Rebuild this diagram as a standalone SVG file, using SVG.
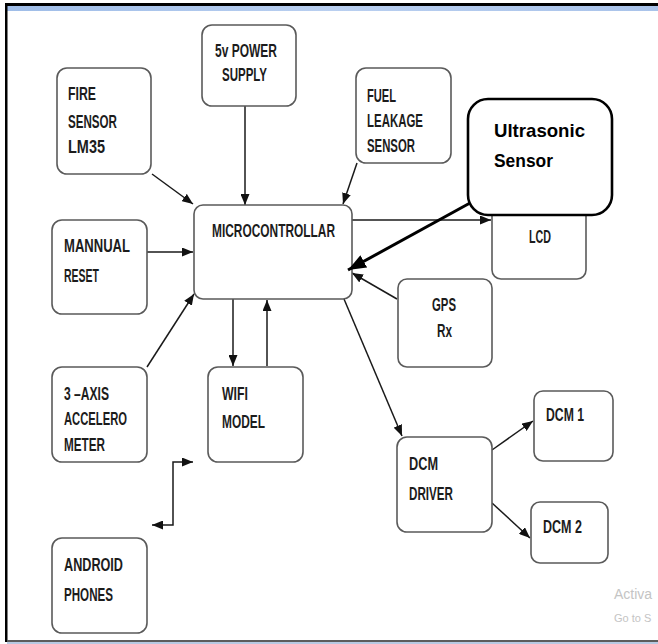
<svg xmlns="http://www.w3.org/2000/svg" width="658" height="644" viewBox="0 0 658 644">
<defs>
<linearGradient id="band" x1="0" y1="0" x2="1" y2="0">
<stop offset="0" stop-color="#9fbde8"/>
<stop offset="0.5" stop-color="#b9cff0"/>
<stop offset="1" stop-color="#a9c3ea"/>
</linearGradient>
<marker id="ah" markerWidth="11" markerHeight="9" refX="11" refY="4.5" orient="auto-start-reverse" markerUnits="userSpaceOnUse">
<path d="M0,0 L11,4.5 L0,9 z" fill="#111"/>
</marker>
<marker id="ahb" markerWidth="18" markerHeight="14" refX="18" refY="7" orient="auto" markerUnits="userSpaceOnUse">
<path d="M0,0 L18,7 L0,14 z" fill="#000"/>
</marker>
</defs>
<style>
.box{fill:#fff;stroke:#5a5a5a;stroke-width:1.6}
.ubox{fill:#fff;stroke:#000;stroke-width:2.6}
.t{font-family:"Liberation Sans",Arial,sans-serif;font-weight:bold;font-size:18px;fill:#1c1c1c}
.u{font-family:"Liberation Sans",Arial,sans-serif;font-weight:bold;font-size:18.5px;fill:#000}
.c{fill:none;stroke:#1a1a1a;stroke-width:1.5}
.wm{font-family:"Liberation Sans",Arial,sans-serif;fill:#c4c4c4}
</style>
<rect x="0" y="0" width="658" height="644" fill="#fff"/>
<!-- frame -->
<rect x="5" y="3" width="653" height="3" fill="#000"/>
<rect x="7" y="6" width="651" height="5" fill="url(#band)"/>
<rect x="5" y="3" width="2.5" height="639" fill="#000"/>
<rect x="7" y="640" width="651" height="2" fill="#5c5c5c"/>
<rect x="7" y="642" width="651" height="2" fill="#b7c9e2"/>

<g id="connectors">
<line class="c" x1="245" y1="106" x2="245" y2="205" marker-end="url(#ah)"/>
<line class="c" x1="152" y1="174" x2="193" y2="204" marker-end="url(#ah)"/>
<line class="c" x1="357" y1="163" x2="343" y2="204" marker-end="url(#ah)"/>
<line class="c" x1="352" y1="220" x2="491" y2="220" marker-end="url(#ah)"/>
<line class="c" x1="147" y1="252" x2="193" y2="252" marker-end="url(#ah)"/>
<line class="c" x1="147" y1="367" x2="194" y2="294" marker-end="url(#ah)"/>
<line class="c" x1="397" y1="299" x2="352" y2="273" marker-end="url(#ah)"/>
<line class="c" x1="233" y1="299" x2="233" y2="366" marker-end="url(#ah)"/>
<line class="c" x1="267" y1="366" x2="267" y2="300" marker-end="url(#ah)"/>
<line class="c" x1="344" y1="299" x2="402" y2="436" marker-end="url(#ah)"/>
<line class="c" x1="492" y1="450" x2="533" y2="421" marker-end="url(#ah)"/>
<line class="c" x1="492" y1="503" x2="530" y2="538" marker-end="url(#ah)"/>
<polyline class="c" points="152,525 173,525 173,462 193,462" marker-start="url(#ah)" marker-end="url(#ah)"/>
</g>

<g id="n-power"><rect class="box" x="202" y="25" width="94" height="81" rx="10"/>
<text class="t" x="215" y="57" textLength="62" lengthAdjust="spacingAndGlyphs">5v POWER</text>
<text class="t" x="222" y="81" textLength="45" lengthAdjust="spacingAndGlyphs">SUPPLY</text></g>

<g id="n-fire"><rect class="box" x="57" y="68" width="94" height="106" rx="10"/>
<text class="t" x="68" y="100" textLength="28" lengthAdjust="spacingAndGlyphs">FIRE</text>
<text class="t" x="68" y="128" textLength="49" lengthAdjust="spacingAndGlyphs">SENSOR</text>
<text class="t" x="68" y="153" textLength="37" lengthAdjust="spacingAndGlyphs">LM35</text></g>

<g id="n-fuel"><rect class="box" x="356" y="68" width="95" height="95" rx="10"/>
<text class="t" x="367" y="102" textLength="29" lengthAdjust="spacingAndGlyphs">FUEL</text>
<text class="t" x="367" y="127" textLength="56" lengthAdjust="spacingAndGlyphs">LEAKAGE</text>
<text class="t" x="367" y="152" textLength="48" lengthAdjust="spacingAndGlyphs">SENSOR</text></g>

<g id="n-micro"><rect class="box" x="194" y="205" width="158" height="94" rx="9"/>
<text class="t" x="212" y="237" textLength="123" lengthAdjust="spacingAndGlyphs">MICROCONTROLLAR</text></g>

<g id="n-lcd"><rect class="box" x="492" y="196" width="94" height="83" rx="9"/>
<text class="t" x="529" y="243" textLength="22" lengthAdjust="spacingAndGlyphs">LCD</text></g>

<g id="n-ultrasonic"><rect class="ubox" x="468" y="99" width="144" height="116" rx="20"/>
<text class="u" x="494" y="137" textLength="91" lengthAdjust="spacingAndGlyphs">Ultrasonic</text>
<text class="u" x="494" y="167" textLength="59" lengthAdjust="spacingAndGlyphs">Sensor</text></g>
<g id="c-ultrasonic"><line x1="470" y1="203" x2="348" y2="270" stroke="#000" stroke-width="3" marker-end="url(#ahb)"/></g>

<g id="n-reset"><rect class="box" x="52" y="220" width="95" height="94" rx="10"/>
<text class="t" x="64" y="252" textLength="66" lengthAdjust="spacingAndGlyphs">MANNUAL</text>
<text class="t" x="64" y="282" textLength="35" lengthAdjust="spacingAndGlyphs">RESET</text></g>

<g id="n-gps"><rect class="box" x="398" y="279" width="94" height="88" rx="9"/>
<text class="t" x="432" y="311" textLength="24" lengthAdjust="spacingAndGlyphs">GPS</text>
<text class="t" x="437" y="337" textLength="15" lengthAdjust="spacingAndGlyphs">Rx</text></g>

<g id="n-accel"><rect class="box" x="52" y="367" width="95" height="95" rx="10"/>
<text class="t" x="64" y="400" textLength="45" lengthAdjust="spacingAndGlyphs">3 –AXIS</text>
<text class="t" x="64" y="425" textLength="63" lengthAdjust="spacingAndGlyphs">ACCELERO</text>
<text class="t" x="64" y="451" textLength="41" lengthAdjust="spacingAndGlyphs">METER</text></g>

<g id="n-wifi"><rect class="box" x="208" y="367" width="95" height="95" rx="10"/>
<text class="t" x="222" y="400" textLength="26" lengthAdjust="spacingAndGlyphs">WIFI</text>
<text class="t" x="222" y="428" textLength="43" lengthAdjust="spacingAndGlyphs">MODEL</text></g>

<g id="n-dcm1"><rect class="box" x="534" y="391" width="79" height="70" rx="9"/>
<text class="t" x="546" y="421" textLength="38" lengthAdjust="spacingAndGlyphs">DCM 1</text></g>

<g id="n-driver"><rect class="box" x="397" y="437" width="95" height="95" rx="10"/>
<text class="t" x="409" y="470" textLength="29" lengthAdjust="spacingAndGlyphs">DCM</text>
<text class="t" x="409" y="500" textLength="44" lengthAdjust="spacingAndGlyphs">DRIVER</text></g>

<g id="n-dcm2"><rect class="box" x="531" y="502" width="77" height="61" rx="9"/>
<text class="t" x="543" y="533" textLength="39" lengthAdjust="spacingAndGlyphs">DCM 2</text></g>

<g id="n-android"><rect class="box" x="52" y="538" width="95" height="95" rx="10"/>
<text class="t" x="64" y="571" textLength="59" lengthAdjust="spacingAndGlyphs">ANDROID</text>
<text class="t" x="64" y="601" textLength="49" lengthAdjust="spacingAndGlyphs">PHONES</text></g>

<text class="wm" x="614" y="599" font-size="14">Activa</text>
<text class="wm" x="614" y="622" font-size="11">Go to S</text>
</svg>
